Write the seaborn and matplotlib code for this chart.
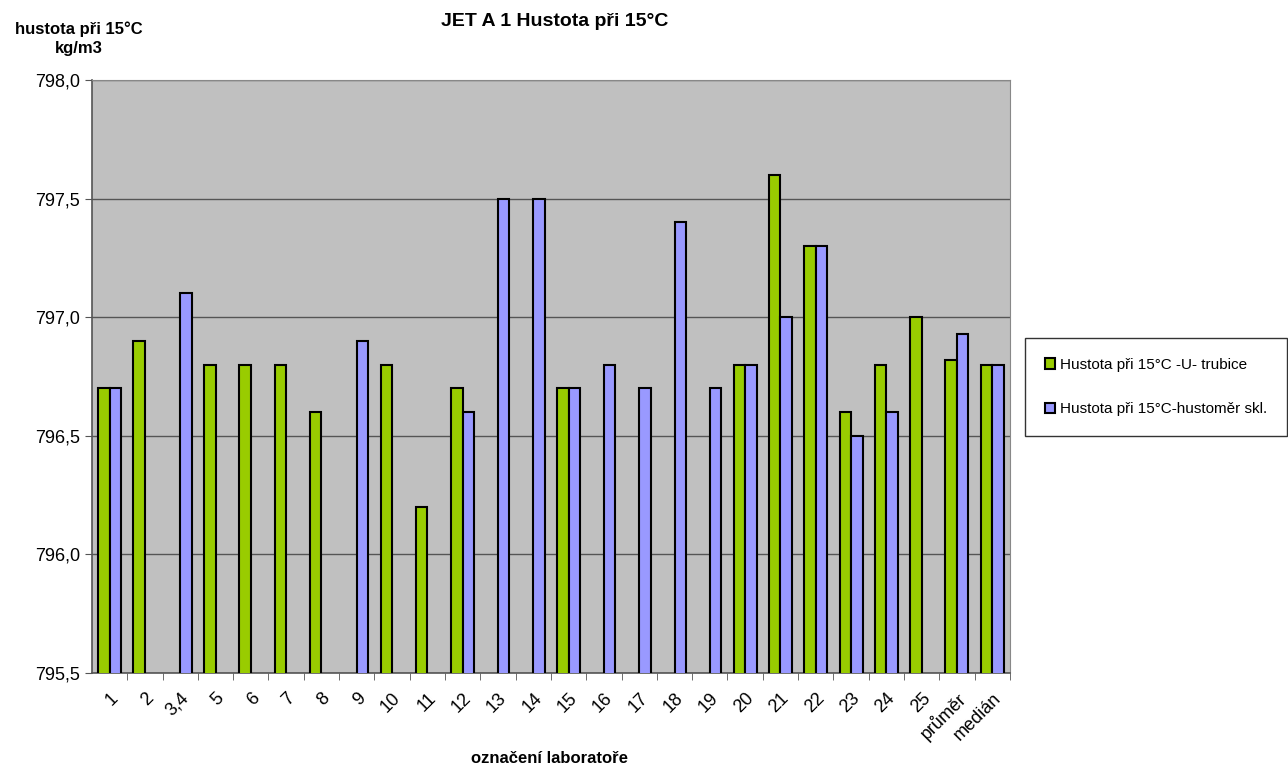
import pandas as pd
import numpy as np
import matplotlib
import matplotlib.pyplot as plt
import seaborn as sns
from matplotlib.ticker import FuncFormatter, MultipleLocator

matplotlib.use("Agg")

labs = ["1", "2", "3,4", "5", "6", "7", "8", "9", "10", "11", "12", "13", "14",
        "15", "16", "17", "18", "19", "20", "21", "22", "23", "24", "25",
        "průměr", "medián"]
u_trubice = [796.7, 796.9, np.nan, 796.8, 796.8, 796.8, 796.6, np.nan, 796.8, 796.2,
             796.7, np.nan, np.nan, 796.7, np.nan, np.nan, np.nan, np.nan, 796.8, 797.6,
             797.3, 796.6, 796.8, 797.0, 796.82, 796.8]
husto_skl = [796.7, np.nan, 797.1, np.nan, np.nan, np.nan, np.nan, 796.9, np.nan, np.nan,
             796.6, 797.5, 797.5, 796.7, 796.8, 796.7, 797.4, 796.7, 796.8, 797.0,
             797.3, 796.5, 796.6, np.nan, 796.93, 796.8]
series_names = ["Hustota při 15°C -U- trubice", "Hustota při 15°C-hustoměr skl."]

df = pd.DataFrame({"lab": labs, series_names[0]: u_trubice, series_names[1]: husto_skl})
long = df.melt(id_vars="lab", var_name="metoda", value_name="hustota")

sns.set_style("white")
plt.rcParams['font.family'] = ['Liberation Sans', 'DejaVu Sans']
plt.rcParams['text.color'] = 'black'
plt.rcParams['xtick.color'] = 'black'
plt.rcParams['ytick.color'] = 'black'

fig = plt.figure(figsize=(12.88, 7.75), dpi=100)
ax = fig.add_axes([0.0714, 0.1316, 0.7127, 0.7652])
ax.set_facecolor("#C0C0C0")

sns.barplot(data=long, x="lab", y="hustota", hue="metoda", order=labs,
            hue_order=series_names, palette=["#99CC00", "#9999FF"], saturation=1,
            width=0.65, errorbar=None, edgecolor="black", linewidth=1.5,
            ax=ax, zorder=3)

ax.set_ylim(795.5, 798.0)
ax.set_xlim(-0.5, len(labs) - 0.5)
ax.yaxis.set_major_locator(MultipleLocator(0.5))
ax.yaxis.set_major_formatter(FuncFormatter(lambda v, p: f"{v:.1f}".replace(".", ",")))
ax.grid(axis="y", color="#555555", linewidth=1, zorder=1)
ax.set_axisbelow(True)
for s in ["top", "right"]:
    ax.spines[s].set_color("#888888")
for s in ["left", "bottom"]:
    ax.spines[s].set_color("#555555")
    ax.spines[s].set_linewidth(1.2)

ax.tick_params(axis="y", labelsize=13, length=5, left=True, color="#555555", labelcolor="black")
ax.tick_params(axis="x", labelsize=13, length=0, pad=12, labelcolor="black")
ax.set_xticks(np.arange(len(labs)) + 0.5, minor=True)
ax.tick_params(axis="x", which="minor", length=5, bottom=True, color="#555555")
plt.setp(ax.get_xticklabels(), rotation=45, ha="right", rotation_mode="anchor")

ax.set_xlabel("")
ax.set_ylabel("")
fig.text(0.427, 0.012, "označení laboratoře", ha="center", va="bottom",
         fontsize=12, fontweight="bold", color="black")
fig.text(0.061, 0.95, "hustota při 15°C\nkg/m3", ha="center", va="center",
         fontsize=12, fontweight="bold", linespacing=1.3, color="black")
fig.text(0.431, 0.972, "JET A 1 Hustota při 15°C", ha="center", va="center",
         fontsize=14, fontweight="bold", color="black")

leg = ax.legend(loc="center left", bbox_to_anchor=(1.008, 0.482), frameon=True,
                fontsize=11, handlelength=0.7, handleheight=0.7, handletextpad=0.3,
                labelspacing=2.0, borderpad=1.3, fancybox=False, edgecolor="black",
                labelcolor="black")
leg.get_frame().set_linewidth(1)

fig.savefig("out.png", dpi=100, facecolor="white")
